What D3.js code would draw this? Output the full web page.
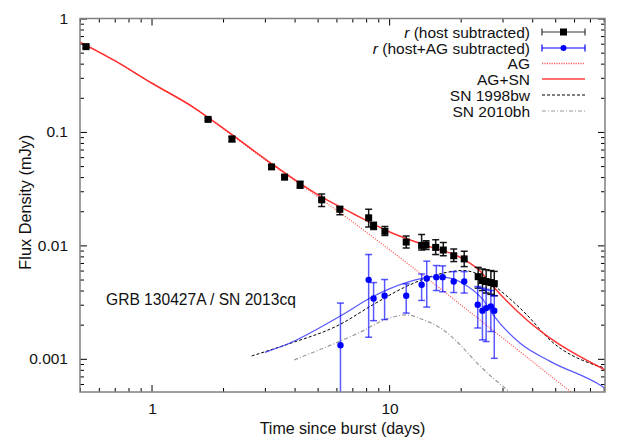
<!DOCTYPE html>
<html><head><meta charset="utf-8">
<script src="https://cdn.jsdelivr.net/npm/d3@7"></script>
<style>
body{margin:0;background:#fff;}
text{font-family:"Liberation Sans",Arial,Helvetica,sans-serif;fill:#111;}
</style></head><body>
<svg id="c" width="623" height="447"></svg>
<script>
// ---- data ----
// host subtracted: [t, flux, lo, hi]
const hostT   = [0.53,1.73,2.18,3.2,3.63,4.22,5.2,6.2,8.2,8.6,9.6,11.8,13.7,14.3,15.7,16.9,18.7,20.7,23.7,24.7,25.6,26.8,27.7];
const hostF   = [0.565,0.129,0.0867,0.0492,0.040,0.0343,0.0252,0.0208,0.0175,0.0149,0.0133,0.0107,0.0100,0.0101,0.0096,0.0091,0.0081,0.0076,0.0053,0.0049,0.0048,0.0047,0.0046];
const hostLo  = [0.55,0.126,0.082,0.047,0.038,0.0319,0.0220,0.0186,0.0145,0.0138,0.0122,0.0095,0.0091,0.0092,0.0083,0.0081,0.0072,0.0065,0.0042,0.0040,0.0038,0.0037,0.0036];
const hostHi  = [0.58,0.132,0.091,0.051,0.042,0.0368,0.0284,0.0220,0.0208,0.0160,0.0147,0.0121,0.0125,0.0110,0.0112,0.0106,0.0093,0.0089,0.0064,0.0062,0.0061,0.0060,0.0059];
// host + AG subtracted
const snT  = [6.24,8.2,8.6,9.57,11.8,13.7,14.4,15.8,16.8,18.7,20.7,23.6,24.7,25.6,26.8,27.7];
const snF  = [0.00132,0.00497,0.0034,0.0036,0.0036,0.0045,0.0051,0.00525,0.00525,0.0048,0.0048,0.0030,0.00266,0.0028,0.0029,0.00265];
const snLo = [0.0002,0.00155,0.00217,0.00222,0.00253,0.00327,0.00286,0.0040,0.0039,0.00384,0.0038,0.00187,0.00147,0.00142,0.00174,0.00101];
const snHi = [0.0031,0.0083,0.0047,0.0050,0.00458,0.0056,0.00726,0.00664,0.0066,0.00587,0.00587,0.00434,0.0042,0.0041,0.0040,0.0036];
// model curves
const agT   = [0.5,0.7,1,1.5,2,3,5,6.83,10,16.3,20,30,40,57,65];
const agF   = [0.62,0.425,0.27,0.165,0.107,0.057,0.0269,0.0168,0.0092,0.0042,0.0030,0.00153,0.00095,0.00053,0.00043];
const agsnT = [0.5,0.7,1,1.5,2,3,5,7,10,14,20,24,27.4,38,47.6,81];
const agsnF = [0.62,0.425,0.27,0.165,0.108,0.058,0.028,0.0192,0.0132,0.0101,0.0078,0.0060,0.00434,0.0022,0.00152,0.0008];
const bwT   = [2.64,3.68,6.18,8.55,11.8,16.9,20.5,24.9,27.4,38,47.6,72.6,81];
const bwF   = [0.00106,0.00133,0.0020,0.0030,0.00434,0.0057,0.0060,0.00525,0.0045,0.00244,0.00146,0.00089,0.00083];
const bhT   = [3.99,7.39,10,11.8,14,16.9,19.9,23.4,31.8];
const bhF   = [0.00098,0.00168,0.00228,0.00244,0.0022,0.0018,0.00133,0.00092,0.00052];
const fitT  = [3.0,3.68,6.18,8.55,11.8,15.8,18.5,20.5,24.9,27.4,35.6,47.6,79,81];
const fitF  = [0.00114,0.00133,0.00236,0.00354,0.0047,0.0053,0.0051,0.0046,0.0033,0.00244,0.00137,0.00095,0.00057,0.00055];
const yTickVals = [0.001,0.01,0.1,1];
const yTickLabels = ["0.001","0.01","0.1","1"];
const xTickVals = [1,10];
const xTickLabels = ["1","10"];

// ---- layout ----
const L=80,R=605,T=18.5,B=392;
const svg=d3.select("#c");
const x=d3.scaleLog().domain([0.5,81]).range([L,R]);
const y=d3.scaleLog().domain([0.00051,1]).range([B,T]);

svg.append("defs").append("clipPath").attr("id","pc").append("rect")
  .attr("x",L).attr("y",T).attr("width",R-L).attr("height",B-T);

// ticks
const g=svg.append("g");
const xMinor=x.ticks().filter(v=>!xTickVals.includes(v));
const yMinor=y.ticks().filter(v=>!yTickVals.some(t=>Math.abs(t-v)/t<1e-6));
function xt(sel,ypos,dir){
  sel.append("g").attr("transform",`translate(0,${ypos})`)
   .call(d3.axisBottom(x).tickValues(xMinor).tickSize(-4*dir).tickFormat(""))
   .call(a=>a.select(".domain").remove());
  sel.append("g").attr("transform",`translate(0,${ypos})`)
   .call(d3.axisBottom(x).tickValues(xTickVals).tickSize(-7*dir).tickFormat(""))
   .call(a=>a.select(".domain").remove());
}
function yt(sel,xpos,dir){
  sel.append("g").attr("transform",`translate(${xpos},0)`)
   .call(d3.axisLeft(y).tickValues(yMinor).tickSize(-4*dir).tickFormat(""))
   .call(a=>a.select(".domain").remove());
  sel.append("g").attr("transform",`translate(${xpos},0)`)
   .call(d3.axisLeft(y).tickValues(yTickVals).tickSize(-7*dir).tickFormat(""))
   .call(a=>a.select(".domain").remove());
}
xt(g,B,1); xt(g,T,-1); yt(g,L,1); yt(g,R,-1);
g.selectAll(".tick line").attr("stroke","#000").attr("stroke-width",1);

// labels
svg.selectAll(".xl").data(xTickVals).join("text").attr("class","xl")
  .attr("x",d=>x(d)+1).attr("y",414).attr("text-anchor","middle")
  .attr("font-size",15.5).text((d,i)=>xTickLabels[i]);
svg.selectAll(".yl").data(yTickVals).join("text").attr("class","yl")
  .attr("x",68).attr("y",d=>y(d)+5.5).attr("text-anchor","end")
  .attr("font-size",15.5).text((d,i)=>yTickLabels[i]);
svg.append("text").attr("x",(L+R)/2).attr("y",434).attr("text-anchor","middle")
  .attr("font-size",16).text("Time since burst (days)");
svg.append("text").attr("transform",`translate(31,${(T+B)/2-3}) rotate(-90)`)
  .attr("text-anchor","middle").attr("font-size",16.3).text("Flux Density (mJy)");
svg.append("text").attr("x",106).attr("y",304.5).attr("font-size",15.6)
  .text("GRB 130427A / SN 2013cq");

// curves
const pc=svg.append("g").attr("clip-path","url(#pc)");
const line=d3.line().x(d=>x(d[0])).y(d=>y(d[1])).curve(d3.curveMonotoneX);
const zip=(a,b)=>a.map((v,i)=>[v,b[i]]);
pc.append("path").attr("d",line(zip(bhT,bhF))).attr("fill","none")
  .attr("stroke","#9a9a9a").attr("stroke-width",1.2).attr("stroke-dasharray","4,2,1,2");
pc.append("path").attr("d",line(zip(bwT,bwF))).attr("fill","none")
  .attr("stroke","#000").attr("stroke-width",1).attr("stroke-dasharray","3,2");
pc.append("path").attr("d",line(zip(fitT,fitF))).attr("fill","none")
  .attr("stroke","#3a3aff").attr("stroke-width",1.2).attr("stroke-opacity",0.85);
pc.append("path").attr("d",line(zip(agT,agF))).attr("fill","none")
  .attr("stroke","#ff2020").attr("stroke-width",1.2).attr("stroke-dasharray","1,1.5").attr("stroke-opacity",0.8);
pc.append("path").attr("d",line(zip(agsnT,agsnF))).attr("fill","none")
  .attr("stroke","#ff1010").attr("stroke-width",1.5).attr("stroke-opacity",0.85);

// error bars
function ebars(T_,F,Lo,Hi,col,op,cap){
  const gg=pc.append("g").attr("stroke",col).attr("stroke-opacity",op).attr("stroke-width",1.5);
  T_.forEach((t,i)=>{
    const cx=x(t);
    gg.append("line").attr("x1",cx).attr("x2",cx).attr("y1",y(Lo[i])).attr("y2",y(Hi[i]));
    gg.append("line").attr("x1",cx-cap).attr("x2",cx+cap).attr("y1",y(Lo[i])).attr("y2",y(Lo[i]));
    gg.append("line").attr("x1",cx-cap).attr("x2",cx+cap).attr("y1",y(Hi[i])).attr("y2",y(Hi[i]));
  });
}
ebars(hostT,hostF,hostLo,hostHi,"#000",0.9,3.5);
pc.selectAll(".sq").data(hostT).join("rect").attr("class","sq")
  .attr("x",d=>x(d)-3.5).attr("y",(d,i)=>y(hostF[i])-3.5).attr("width",7).attr("height",7)
  .attr("fill","#000");
ebars(snT,snF,snLo,snHi,"#0000ff",0.65,3.5);
pc.selectAll(".dot").data(snT).join("circle").attr("class","dot")
  .attr("cx",d=>x(d)).attr("cy",(d,i)=>y(snF[i])).attr("r",3.2).attr("fill","#0000ff");

// frame
svg.append("rect").attr("x",L).attr("y",T).attr("width",R-L).attr("height",B-T)
  .attr("fill","none").attr("stroke","#808080").attr("stroke-width",1.5);

// legend
const lg=svg.append("g");
const rows=[32,48,63.5,79,95,111];
const tx=530, s1=542, s2=585;
function ltext(yy,parts){
  const t=lg.append("text").attr("x",tx).attr("y",yy+5.5).attr("text-anchor","end").attr("font-size",15.5);
  parts.forEach(p=>t.append("tspan").attr("font-style",p[1]?"italic":null).text(p[0]));
}
ltext(rows[0],[["r",1],[" (host subtracted)",0]]);
ltext(rows[1],[["r",1],[" (host+AG subtracted)",0]]);
ltext(rows[2],[["AG",0]]);
ltext(rows[3],[["AG+SN",0]]);
ltext(rows[4],[["SN 1998bw",0]]);
ltext(rows[5],[["SN 2010bh",0]]);
function leb(yy,col){
  const gg=lg.append("g").attr("stroke",col).attr("stroke-width",1.2);
  gg.append("line").attr("x1",s1).attr("x2",s2).attr("y1",yy).attr("y2",yy);
  gg.append("line").attr("x1",s1).attr("x2",s1).attr("y1",yy-3.5).attr("y2",yy+3.5);
  gg.append("line").attr("x1",s2).attr("x2",s2).attr("y1",yy-3.5).attr("y2",yy+3.5);
}
leb(rows[0],"#333");
lg.append("rect").attr("x",(s1+s2)/2-3.5).attr("y",rows[0]-3.5).attr("width",7).attr("height",7).attr("fill","#000");
leb(rows[1],"#0000ff");
lg.append("circle").attr("cx",(s1+s2)/2).attr("cy",rows[1]).attr("r",3).attr("fill","#0000ff");
lg.append("line").attr("x1",s1).attr("x2",s2).attr("y1",rows[2]).attr("y2",rows[2])
  .attr("stroke","#ff5a5a").attr("stroke-width",1.5).attr("stroke-dasharray","1.2,1.2");
lg.append("line").attr("x1",s1).attr("x2",s2).attr("y1",rows[3]).attr("y2",rows[3])
  .attr("stroke","#ff7070").attr("stroke-width",1.8);
lg.append("line").attr("x1",s1).attr("x2",s2).attr("y1",rows[4]).attr("y2",rows[4])
  .attr("stroke","#000").attr("stroke-width",1).attr("stroke-dasharray","3,2");
lg.append("line").attr("x1",s1).attr("x2",s2).attr("y1",rows[5]).attr("y2",rows[5])
  .attr("stroke","#9a9a9a").attr("stroke-width",1.2).attr("stroke-dasharray","4,2,1,2");
</script></body></html>
